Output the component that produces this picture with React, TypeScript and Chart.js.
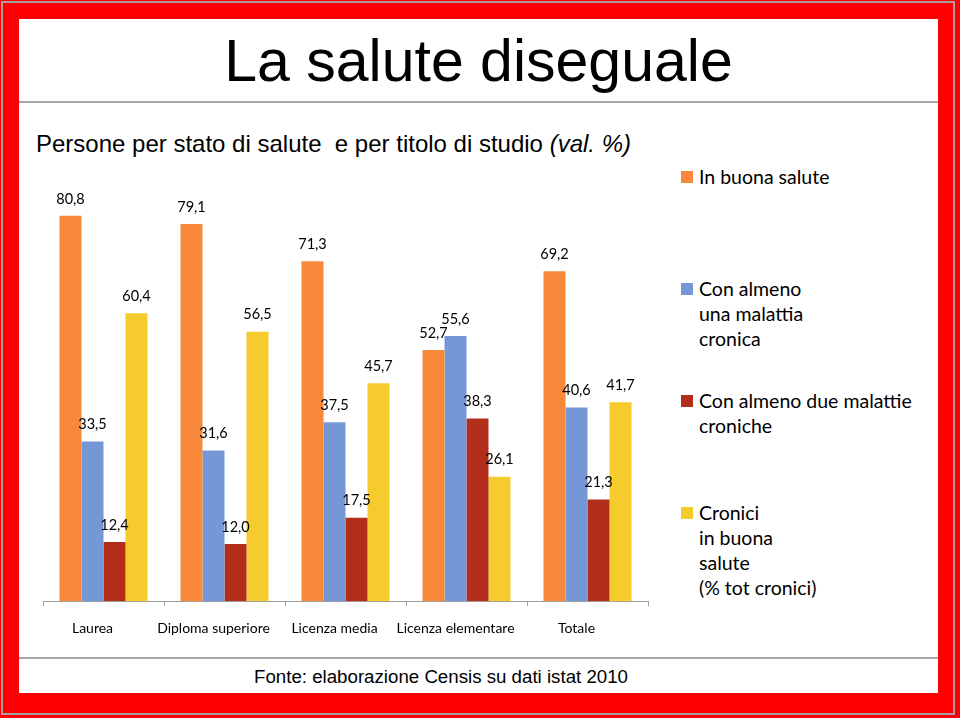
import React, { useEffect, useRef } from "react";
import { Chart, registerables } from "chart.js";

Chart.register(...registerables);

const categories = ["Laurea", "Diploma superiore", "Licenza media", "Licenza elementare", "Totale"];
const inBuonaSalute = [80.8, 79.1, 71.3, 52.7, 69.2];
const unaMalattiaCronica = [33.5, 31.6, 37.5, 55.6, 40.6];
const dueMalattieCroniche = [12.4, 12.0, 17.5, 38.3, 21.3];
const croniciInBuonaSalute = [60.4, 56.5, 45.7, 26.1, 41.7];
const seriesLabels = [
  "In buona salute",
  "Con almeno\nuna malattia\ncronica",
  "Con almeno due malattie\ncroniche",
  "Cronici\nin buona\nsalute\n(% tot cronici)",
];
const seriesColors = ["#F8883A", "#7597D6", "#B22E1B", "#F5CB2E"];
const titleText = "La salute diseguale";
const subtitleMain = "Persone per stato di salute  e per titolo di studio ";
const subtitleItalic = "(val. %)";
const sourceText = "Fonte: elaborazione Censis su dati istat 2010";

const valueLabelPlugin = {
  id: "valueLabels",
  afterDatasetsDraw(chart: any) {
    const ctx = chart.ctx;
    ctx.save();
    ctx.font = "14.5px Lato";
    ctx.fillStyle = "#000";
    ctx.textAlign = "center";
    ctx.textBaseline = "middle";
    chart.data.datasets.forEach((ds: any, i: number) => {
      const meta = chart.getDatasetMeta(i);
      meta.data.forEach((el: any, j: number) => {
        const v = ds.data[j];
        ctx.fillText(v.toFixed(1).replace(".", ","), el.x, el.y - 17);
      });
    });
    ctx.restore();
  },
};

function BarChart() {
  const ref = useRef<HTMLCanvasElement | null>(null);
  useEffect(() => {
    if (!ref.current) return;
    const values = [inBuonaSalute, unaMalattiaCronica, dueMalattieCroniche, croniciInBuonaSalute];
    const chart = new Chart(ref.current, {
      type: "bar",
      data: {
        labels: categories,
        datasets: values.map((d, i) => ({
          label: seriesLabels[i],
          data: d,
          backgroundColor: seriesColors[i],
          borderWidth: 0,
          barPercentage: 1,
          categoryPercentage: 0.727,
        })),
      },
      options: {
        responsive: false,
        animation: false,
        devicePixelRatio: 1,
        layout: { padding: { left: 23, right: 12, top: 22, bottom: 13 } },
        plugins: { legend: { display: false }, tooltip: { enabled: false } },
        scales: {
          x: {
            grid: {
              display: true,
              drawOnChartArea: false,
              drawTicks: true,
              tickLength: 5,
              offset: true,
              color: "#A0A0A0",
            },
            border: { display: true, color: "#A0A0A0", width: 1 },
            ticks: {
              color: "#000",
              font: { family: "Lato", size: 14 },
              padding: 14,
              labelOffset: -11,
              maxRotation: 0,
              autoSkip: false,
            },
          },
          y: { display: false, min: 0, max: 90 },
        },
      },
      plugins: [valueLabelPlugin],
    });
    return () => chart.destroy();
  }, []);
  return (
    <canvas
      ref={ref}
      width={640}
      height={514}
      style={{ position: "absolute", left: 20, top: 150, width: 640, height: 514 }}
    />
  );
}

export default function App() {
  return (
    <div
      style={{
        position: "fixed",
        left: 0,
        top: 0,
        width: 960,
        height: 718,
        background: "#FF0000",
        overflow: "hidden",
      }}
    >
      <div
        style={{
          position: "absolute",
          left: 1,
          top: 1,
          width: 954,
          height: 714,
          border: "2px solid #A8A0A0",
          boxSizing: "border-box",
        }}
      />
      <div style={{ position: "absolute", left: 19, top: 19, width: 919, height: 674, background: "#fff" }} />
      <div style={{ position: "absolute", left: 19, top: 101, width: 919, height: 2, background: "#A6A6A6" }} />
      <div style={{ position: "absolute", left: 19, top: 657, width: 919, height: 2, background: "#A6A6A6" }} />
      <div
        style={{
          position: "absolute",
          left: 19,
          width: 919,
          top: 32,
          textAlign: "center",
          font: "59px 'Liberation Sans', Arial, sans-serif",
          lineHeight: "59px",
          color: "#000",
          whiteSpace: "nowrap",
        }}
      >
        {titleText}
      </div>
      <div
        style={{
          position: "absolute",
          left: 36,
          top: 132,
          font: "24px 'Liberation Sans', Arial, sans-serif",
          lineHeight: "24px",
          color: "#000",
          whiteSpace: "pre",
        }}
      >
        {subtitleMain}
        <i>{subtitleItalic}</i>
      </div>
      <BarChart />
      <div
        style={{
          position: "absolute",
          left: 681,
          top: 164,
          font: "19.5px Lato, sans-serif",
          color: "#000",
        }}
      >
        {seriesLabels.map((lab, i) => (
          <div key={i} style={{ display: "flex", height: 112, alignItems: "flex-start" }}>
            <div
              style={{
                width: 12,
                height: 12,
                marginTop: 7,
                background: seriesColors[i],
                flex: "none",
              }}
            />
            <div style={{ marginLeft: 6, lineHeight: "25px", whiteSpace: "pre" }}>{lab}</div>
          </div>
        ))}
      </div>
      <div
        style={{
          position: "absolute",
          left: 241,
          width: 400,
          top: 667,
          textAlign: "center",
          font: "18.7px 'Liberation Sans', Arial, sans-serif",
          lineHeight: "20px",
          color: "#000",
          whiteSpace: "nowrap",
        }}
      >
        {sourceText}
      </div>
    </div>
  );
}
